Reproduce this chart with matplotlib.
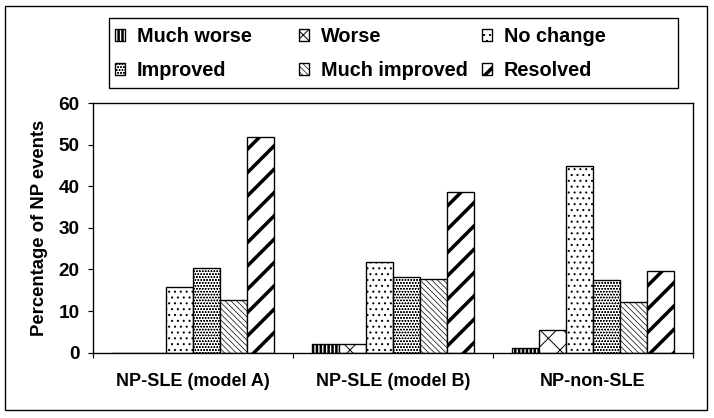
import matplotlib
matplotlib.use("Agg")
import matplotlib.pyplot as plt
from matplotlib.patches import Rectangle
import numpy as np

# data
groups = ["NP-SLE (model A)", "NP-SLE (model B)", "NP-non-SLE"]
categories = ["Much worse", "Worse", "No change", "Improved", "Much improved", "Resolved"]
much_worse = [0.0, 2.2, 1.2]
worse = [0.0, 2.2, 5.5]
no_change = [15.7, 21.8, 44.8]
improved = [20.3, 18.2, 17.5]
much_improved = [12.6, 17.6, 12.3]
resolved = [51.8, 38.5, 19.7]
series = [much_worse, worse, no_change, improved, much_improved, resolved]

hatches = ["|||", "x", "..", "oooo", "\\\\\\\\", "/"]
hatch_lw = [2.6, 1.0, 1.0, 0.5, 0.7, 3.6]

plt.rcParams['font.family'] = ['Liberation Sans', 'DejaVu Sans']
plt.rcParams['font.weight'] = 'bold'

DPI = 70
fig = plt.figure(figsize=(714 / DPI, 418 / DPI), dpi=DPI)
ax = fig.add_axes([93 / 714, 1 - 352.7 / 418, 600 / 714, 249.7 / 418])

x = np.arange(len(groups))
w = 0.135
bars = []
for i, (vals, h, lw) in enumerate(zip(series, hatches, hatch_lw)):
    with plt.rc_context({'hatch.linewidth': lw}):
        b = ax.bar(x + (i - 2.5) * w, vals, w, color='white', edgecolor='black',
                   linewidth=1.4, hatch=h, label=categories[i])
    for p in b:
        if hasattr(p, 'set_hatch_linewidth'):
            p.set_hatch_linewidth(lw)
    bars.append(b)

ax.set_xlim(-0.5, 2.5)
ax.set_ylim(0, 60)
ax.set_yticks(np.arange(0, 61, 10))
ax.set_xticks([-0.5, 0.5, 1.5, 2.5])
ax.set_xticklabels([])
ax.set_xticks(x, minor=True)
ax.set_xticklabels(groups, minor=True)
ax.tick_params(axis='x', which='minor', length=0, pad=21, labelsize=18.5)
ax.tick_params(axis='x', which='major', direction='out', length=5, width=1.2)
ax.tick_params(axis='y', direction='out', length=5, width=1.2, pad=9, labelsize=19.5)
for s in ax.spines.values():
    s.set_linewidth(1.4)
ax.set_ylabel("Percentage of NP events", fontsize=19, fontweight='bold', labelpad=11)

# legend: three columns of equal width inside one box
fig.patches.append(Rectangle((109 / 714, 1 - 88 / 418), 569 / 714, 70 / 418,
                             transform=fig.transFigure, fill=False,
                             edgecolor='black', linewidth=1.4))
col_x = [115, 299, 482]
cols = [[0, 3], [1, 4], [2, 5]]
for cx, idx in zip(col_x, cols):
    leg = fig.legend([bars[k] for k in idx], [categories[k] for k in idx],
                     loc='upper left', bbox_to_anchor=(cx / 714, 1 - 27 / 418),
                     frameon=False, borderpad=0, borderaxespad=0,
                     fontsize=20.5, handlelength=0.5, handleheight=0.5,
                     handletextpad=0.6, labelspacing=0.75)
    for k, hp in zip(idx, leg.legend_handles):
        if hasattr(hp, 'set_hatch_linewidth'):
            hp.set_hatch_linewidth(hatch_lw[k])
        # the small key box is narrower than one cross-hatch cell
        if categories[k] == "Worse":
            hp.set_hatch("xx")

# outer frame around the whole chart
fig.patches.append(Rectangle((5 / 714, 1 - 410 / 418), 702 / 714, 404 / 418,
                             transform=fig.transFigure, fill=False,
                             edgecolor='black', linewidth=1.4))

fig.savefig("out.png", dpi=DPI)
